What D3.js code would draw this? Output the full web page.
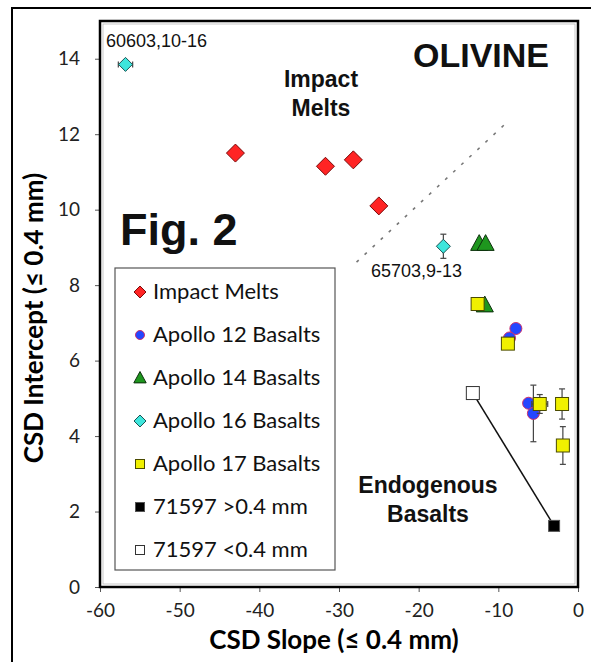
<!DOCTYPE html>
<html>
<head>
<meta charset="utf-8">
<script src="https://cdn.jsdelivr.net/npm/d3@7"></script>
<style>
  body { margin: 0; background: #fff; }
  svg { display: block; }
</style>
</head>
<body>
<div id="chart-area"></div>
<script>
// dados (slope, intercept)
const impactMelts = [[-43.0, 11.5], [-31.7, 11.15], [-28.2, 11.32], [-25.0, 10.1]];
const apollo12 = [[-7.8, 6.85], [-8.6, 6.6], [-6.2, 4.87], [-5.6, 4.6]];
const apollo12Err = [0, 0, 0, 0.75];
const apollo14 = [[-12.4, 9.1], [-11.6, 9.1], [-11.7, 7.47]];
const apollo16 = [[-56.8, 13.85], [-16.9, 9.03]];
const apollo16XErr = [0.9, 0];
const apollo16YErr = [0, 0.32];
const apollo17 = [[-12.6, 7.5], [-8.8, 6.45], [-4.8, 4.85], [-2.0, 4.85], [-1.9, 3.75]];
const apollo17XErr = [0, 0, 1.0, 0, 0.5];
const apollo17YErr = [0, 0.12, 0.25, 0.4, 0.5];
const s71597Coarse = [[-3.0, 1.62]];
const s71597Fine = [[-13.2, 5.14]];
const divider = [[-27.8, 8.61], [-9.3, 12.24]];
const xTicks = [-60, -50, -40, -30, -20, -10, 0];
const yTicks = [0, 2, 4, 6, 8, 10, 12, 14];
const legendLabels = ['Impact Melts', 'Apollo 12 Basalts', 'Apollo 14 Basalts', 'Apollo 16 Basalts',
  'Apollo 17 Basalts', '71597 >0.4 mm', '71597 <0.4 mm'];

const width = 591, height = 662;
const svg = d3.select('#chart-area').append('svg')
  .attr('width', width).attr('height', height);

// moldura externa
svg.append('rect').attr('x', 12).attr('y', 8).attr('width', 600).attr('height', 700)
  .attr('fill', 'none').attr('stroke', '#000').attr('stroke-width', 2);

const x = d3.scaleLinear().domain([-60, 0]).range([100, 578]);
const y = d3.scaleLinear().domain([0, 15]).range([587, 21]);

const calib = 'Lato, "Open Sans", sans-serif';
const arial = '"Liberation Sans", Arial, sans-serif';

// eixos
const xAxis = svg.append('g').attr('transform', `translate(0, ${y(0)})`)
  .call(d3.axisBottom(x).tickValues(xTicks).tickSize(5).tickPadding(12).tickFormat(d => d));
xAxis.selectAll('text').attr('font-family', calib).attr('font-size', '19px').attr('fill', '#222');
xAxis.select('.domain').remove();
xAxis.selectAll('line').attr('stroke', '#555');

const yAxis = svg.append('g').attr('transform', `translate(${x(-60)}, 0)`)
  .call(d3.axisLeft(y).tickValues(yTicks).tickSize(5).tickPadding(15));
yAxis.selectAll('text').attr('font-family', calib).attr('font-size', '19px').attr('fill', '#222');
yAxis.select('.domain').remove();
yAxis.selectAll('line').attr('stroke', '#555');

// área do gráfico
svg.append('rect').attr('x', x(-60)).attr('y', y(15))
  .attr('width', x(0) - x(-60)).attr('height', y(0) - y(15))
  .attr('fill', 'none').attr('stroke', '#000').attr('stroke-width', 2.5);
svg.append('rect').attr('x', x(-60) + 3).attr('y', y(15) + 3)
  .attr('width', x(0) - x(-60) - 6).attr('height', y(0) - y(15) - 6)
  .attr('fill', 'none').attr('stroke', '#bbb').attr('stroke-width', 0.8);

// títulos dos eixos
svg.append('text').attr('x', 334).attr('y', 649).attr('text-anchor', 'middle')
  .attr('font-family', calib).attr('font-weight', 'bold').attr('font-size', '26px')
  .text('CSD Slope (≤ 0.4 mm)');
svg.append('text').attr('transform', 'translate(43, 318) rotate(-90)').attr('text-anchor', 'middle')
  .attr('font-family', calib).attr('font-weight', 'bold').attr('font-size', '26px')
  .text('CSD Intercept (≤ 0.4 mm)');

// linha tracejada que separa os grupos
svg.append('line')
  .attr('x1', x(divider[0][0])).attr('y1', y(divider[0][1]))
  .attr('x2', x(divider[1][0])).attr('y2', y(divider[1][1]))
  .attr('stroke', '#777').attr('stroke-width', 1.6).attr('stroke-dasharray', '3,8');

// linha 71597
svg.append('line')
  .attr('x1', x(s71597Fine[0][0])).attr('y1', y(s71597Fine[0][1]))
  .attr('x2', x(s71597Coarse[0][0])).attr('y2', y(s71597Coarse[0][1]))
  .attr('stroke', '#111').attr('stroke-width', 1.5);

// textos
function label(txt, px, py, size, weight, family, anchor) {
  svg.append('text').attr('x', px).attr('y', py)
    .attr('font-family', family).attr('font-size', size + 'px')
    .attr('font-weight', weight).attr('text-anchor', anchor || 'start')
    .attr('fill', '#111').text(txt);
}
label('60603,10-16', 106, 47, 18, 'normal', arial);
label('65703,9-13', 371, 277, 18, 'normal', arial);
label('Impact', 321, 87, 23, 'bold', arial, 'middle');
label('Melts', 321, 116, 23, 'bold', arial, 'middle');
label('OLIVINE', 481, 67, 34, 'bold', arial, 'middle');
label('Fig. 2', 120, 245, 45, 'bold', arial);
label('Endogenous', 428, 493, 23, 'bold', arial, 'middle');
label('Basalts', 428, 522, 23, 'bold', arial, 'middle');

// desenho dos marcadores
function marker(g, shape, s, fill, stroke) {
  let el;
  if (shape === 'diamond') {
    el = g.append('path').attr('d', `M0,${-s}L${s},0L0,${s}L${-s},0Z`);
  } else if (shape === 'circle') {
    el = g.append('circle').attr('r', s);
  } else if (shape === 'triangle') {
    el = g.append('path').attr('d', `M0,${-s}L${s * 0.95},${s * 0.75}L${-s * 0.95},${s * 0.75}Z`);
  } else {
    el = g.append('rect').attr('x', -s).attr('y', -s).attr('width', 2 * s).attr('height', 2 * s);
  }
  el.attr('fill', fill).attr('stroke', stroke).attr('stroke-width', 1);
  return el;
}

function errorBars(data, xe, ye) {
  data.forEach((d, i) => {
    const g = svg.append('g').attr('stroke', '#444').attr('stroke-width', 1.2);
    const ex = xe ? xe[i] : 0, ey = ye ? ye[i] : 0;
    if (ex) {
      g.append('line').attr('x1', x(d[0] - ex)).attr('x2', x(d[0] + ex)).attr('y1', y(d[1])).attr('y2', y(d[1]));
      [d[0] - ex, d[0] + ex].forEach(v => g.append('line').attr('x1', x(v)).attr('x2', x(v))
        .attr('y1', y(d[1]) - 3).attr('y2', y(d[1]) + 3));
    }
    if (ey) {
      g.append('line').attr('y1', y(d[1] - ey)).attr('y2', y(d[1] + ey)).attr('x1', x(d[0])).attr('x2', x(d[0]));
      [d[1] - ey, d[1] + ey].forEach(v => g.append('line').attr('y1', y(v)).attr('y2', y(v))
        .attr('x1', x(d[0]) - 3).attr('x2', x(d[0]) + 3));
    }
  });
}

const series = [
  { data: impactMelts, shape: 'diamond', size: 9, fill: '#ff2424', stroke: '#7a0a0a' },
  { data: apollo12, shape: 'circle', size: 6, fill: '#2446ff', stroke: '#d0306a', ye: apollo12Err },
  { data: apollo14, shape: 'triangle', size: 9, fill: '#1e961e', stroke: '#0c2f0c' },
  { data: apollo16, shape: 'diamond', size: 7, fill: '#3ee6dc', stroke: '#1b5454', xe: apollo16XErr, ye: apollo16YErr },
  { data: apollo17, shape: 'square', size: 6.5, fill: '#f0f000', stroke: '#4a4a00', xe: apollo17XErr, ye: apollo17YErr },
  { data: s71597Coarse, shape: 'square', size: 5.5, fill: '#000', stroke: '#555' },
  { data: s71597Fine, shape: 'square', size: 6.5, fill: '#fff', stroke: '#333' }
];

series.forEach(s => {
  if (s.xe || s.ye) errorBars(s.data, s.xe, s.ye);
  s.data.forEach(d => {
    const g = svg.append('g').attr('transform', `translate(${x(d[0])}, ${y(d[1])})`);
    marker(g, s.shape, s.size, s.fill, s.stroke);
  });
});

// legenda
const legend = svg.append('g');
legend.append('rect').attr('x', 115).attr('y', 268).attr('width', 220).attr('height', 302)
  .attr('fill', '#fff').attr('stroke', '#555').attr('stroke-width', 1.2);
series.forEach((s, i) => {
  const ly = 292 + i * 43;
  const g = legend.append('g').attr('transform', `translate(140, ${ly})`);
  marker(g, s.shape, s.shape === 'circle' ? 4.5 : (s.shape === 'triangle' ? 6.5 : s.shape === 'diamond' ? 6 : 4.5),
    s.fill, s.stroke);
  legend.append('text').attr('x', 153).attr('y', ly + 7)
    .attr('font-family', calib).attr('font-size', '22px').attr('fill', '#111')
    .text(legendLabels[i]);
});
</script>
</body>
</html>
